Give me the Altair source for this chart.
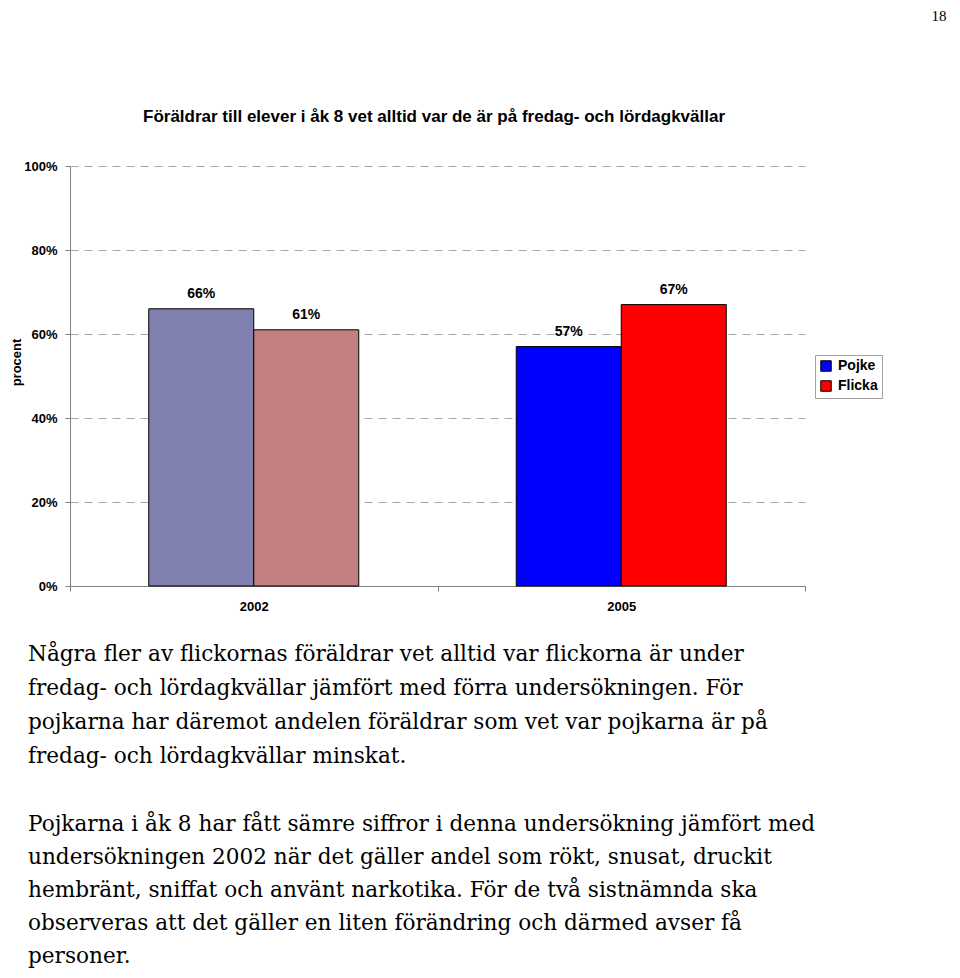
import altair as alt
import pandas as pd

# ---- data ----
years = ["2002", "2002", "2005", "2005"]
genders = ["Pojke", "Flicka", "Pojke", "Flicka"]
values = [66, 61, 57, 67]
color_keys = ["Pojke 2002", "Flicka 2002", "Pojke", "Flicka"]
color_domain = ["Pojke", "Flicka", "Pojke 2002", "Flicka 2002"]
color_range = ["#0000FF", "#FF0000", "#8080B0", "#C48080"]
legend_entries = ["Pojke", "Flicka"]
y_ticks = [0, 20, 40, 60, 80, 100]

chart_title = "Föräldrar till elever i åk 8 vet alltid var de är på fredag- och lördagkvällar"
y_title = "procent"
page_number = "18"
paragraph1 = [
    "Några fler av flickornas föräldrar vet alltid var flickorna är under",
    "fredag- och lördagkvällar jämfört med förra undersökningen. För",
    "pojkarna har däremot andelen föräldrar som vet var pojkarna är på",
    "fredag- och lördagkvällar minskat.",
]
paragraph2 = [
    "Pojkarna i åk 8 har fått sämre siffror i denna undersökning jämfört med",
    "undersökningen 2002 när det gäller andel som rökt, snusat, druckit",
    "hembränt, sniffat och använt narkotika. För de två sistnämnda ska",
    "observeras att det gäller en liten förändring och därmed avser få",
    "personer.",
]

df = pd.DataFrame({"År": years, "Kön": genders, "Andel": values, "Färg": color_keys})

SANS = "Liberation Sans"
SERIF = "DejaVu Serif"

base = alt.Chart(df).encode(
    x=alt.X(
        "År:N",
        scale=alt.Scale(paddingInner=0, paddingOuter=0),
        axis=alt.Axis(
            title=None, labelAngle=0, tickBand="extent", tickSize=5,
            labelPadding=9, labelFont=SANS, labelFontSize=13, labelFontWeight="bold",
            labelColor="black", domainColor="#808080", tickColor="#808080", grid=False,
        ),
    ),
    xOffset=alt.XOffset(
        "Kön:N", sort=["Pojke", "Flicka"],
        scale=alt.Scale(paddingInner=0, paddingOuter=0.75),
    ),
    y=alt.Y(
        "Andel:Q",
        scale=alt.Scale(domain=[0, 100]),
        axis=alt.Axis(
            title=y_title, values=y_ticks, labelExpr="datum.value + '%'",
            tickSize=5, labelPadding=8, labelFont=SANS, labelFontSize=13,
            labelFontWeight="bold", labelColor="black",
            domainColor="#808080", tickColor="#808080",
            grid=True, gridDash=[8, 6], gridColor="#A8A8A8", gridWidth=1,
            titleFont=SANS, titleFontSize=13, titleFontWeight="bold",
            titleColor="black", titleX=-47, titleY=196,
        ),
    ),
)

bars = base.mark_bar(stroke="black", strokeWidth=1).encode(
    color=alt.Color(
        "Färg:N",
        scale=alt.Scale(domain=color_domain, range=color_range),
        legend=alt.Legend(
            values=legend_entries, title=None, orient="none",
            legendX=745, legendY=189, padding=4,
            strokeColor="#A0A0A0", fillColor="white",
            symbolType="square", symbolSize=110,
            symbolStrokeColor="black", symbolStrokeWidth=1,
            labelFont=SANS, labelFontSize=14, labelFontWeight="bold",
            labelColor="black", labelOffset=5, rowPadding=4,
        ),
    )
)

labels = base.mark_text(
    baseline="bottom", dy=-8, font=SANS, fontSize=14, fontWeight="bold", color="black"
).encode(text="lbl:N").transform_calculate(lbl="datum.Andel + '%'")

one = alt.InlineData(values=[{"k": 1}])

title_mark = alt.Chart(one).mark_text(
    align="center", baseline="middle", font=SANS, fontSize=17, fontWeight="bold", color="black"
).encode(x=alt.value(364), y=alt.value(-49), text=alt.value(chart_title))

para1 = alt.Chart(one).mark_text(
    align="left", baseline="top", font=SERIF, fontSize=21.6, lineHeight=34, color="black"
).encode(x=alt.value(-42), y=alt.value(478), text=alt.value(paragraph1))

para2 = alt.Chart(one).mark_text(
    align="left", baseline="top", font=SERIF, fontSize=21.6, lineHeight=33, color="black"
).encode(x=alt.value(-42), y=alt.value(648), text=alt.value(paragraph2))

page = alt.Chart(one).mark_text(
    align="center", baseline="alphabetic", font="Liberation Serif", fontSize=15, color="black"
).encode(x=alt.value(869), y=alt.value(-145), text=alt.value(page_number))

chart = alt.layer(bars, labels, title_mark, para1, para2, page).properties(
    width=735,
    height=420,
    padding={"left": 62, "top": 158, "right": 147, "bottom": 382},
    autosize=alt.AutoSizeParams(type="none"),
).configure_view(stroke=None)

chart.save("out.html", embed_options={"renderer": "svg", "actions": False})
